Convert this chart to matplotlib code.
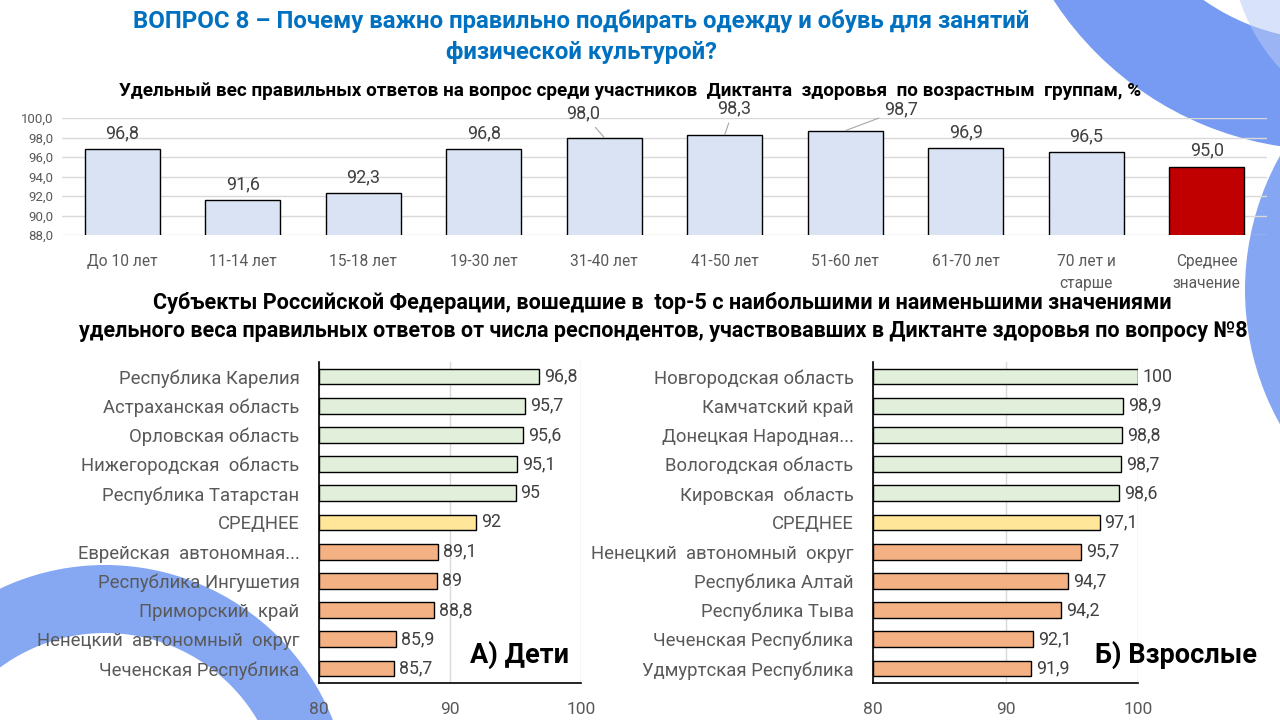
import matplotlib
matplotlib.use("Agg")
import matplotlib.pyplot as plt
from matplotlib.patches import Wedge

plt.rcParams['font.family'] = ['Roboto', 'DejaVu Sans']

# ---------------- data ----------------
age_groups = ["До 10 лет", "11-14 лет", "15-18 лет", "19-30 лет", "31-40 лет",
              "41-50 лет", "51-60 лет", "61-70 лет", "70 лет и\nстарше", "Среднее\nзначение"]
age_values = [96.8, 91.6, 92.3, 96.8, 98.0, 98.3, 98.7, 96.9, 96.5, 95.0]
age_yticks = [88, 90, 92, 94, 96, 98, 100]

kids_regions = ["Республика Карелия", "Астраханская область", "Орловская область",
                "Нижегородская  область", "Республика Татарстан", "СРЕДНЕЕ",
                "Еврейская  автономная...", "Республика Ингушетия", "Приморский  край",
                "Ненецкий  автономный  округ", "Чеченская Республика"]
kids_values = [96.8, 95.7, 95.6, 95.1, 95, 92, 89.1, 89, 88.8, 85.9, 85.7]

adult_regions = ["Новгородская область", "Камчатский край", "Донецкая Народная...",
                 "Вологодская область", "Кировская  область", "СРЕДНЕЕ",
                 "Ненецкий  автономный  округ", "Республика Алтай", "Республика Тыва",
                 "Чеченская Республика", "Удмуртская Республика"]
adult_values = [100, 98.9, 98.8, 98.7, 98.6, 97.1, 95.7, 94.7, 94.2, 92.1, 91.9]
region_xticks = [80, 90, 100]

# ---------------- styles ----------------
W, H = 1280, 720
GREEN, YELLOW, ORANGE = "#E2EFDA", "#FFE699", "#F4B183"
BLUE_BAR, RED_BAR = "#DAE3F3", "#C00000"
TXT = "#595959"
GRID = "#D9D9D9"

fig = plt.figure(figsize=(12.8, 7.2), dpi=100)
fig.patch.set_facecolor("white")


def px_axes(x0, y0, x1, y1, **kw):
    """axes from pixel box (top-left origin)."""
    return fig.add_axes([x0 / W, 1 - y1 / H, (x1 - x0) / W, (y1 - y0) / H], **kw)


# ---------------- decorative background ----------------
bg = px_axes(0, 0, W, H, zorder=0)
bg.set_xlim(0, W)
bg.set_ylim(H, 0)
bg.axis("off")
bg.add_patch(Wedge((1330, -180), 330, 0, 360, width=110, facecolor="#5F8AF0", alpha=0.85, lw=0))
bg.add_patch(Wedge((1420, -60), 190, 0, 360, width=70, facecolor="#B9CBF7", alpha=0.55, lw=0))
bg.add_patch(Wedge((1520, 290), 275, 0, 360, width=45, facecolor="#7097F2", alpha=0.85, lw=0))
bg.add_patch(Wedge((105, 810), 245, 0, 360, width=68, facecolor="#7199F2", alpha=0.85, lw=0))

# ---------------- titles ----------------
fig.text(581 / W, 1 - 21 / H, "ВОПРОС 8 – Почему важно правильно подбирать одежду и обувь для занятий",
         ha="center", va="center", fontsize=17.3, fontweight="bold", color="#0070C0")
fig.text(581 / W, 1 - 52 / H, "физической культурой?",
         ha="center", va="center", fontsize=17.3, fontweight="bold", color="#0070C0")
fig.text(630 / W, 1 - 91 / H,
         "Удельный вес правильных ответов на вопрос среди участников  Диктанта  здоровья  по возрастным  группам, %",
         ha="center", va="center", fontsize=13.6, fontweight="bold", color="black")
fig.text(662 / W, 1 - 303 / H,
         "Субъекты Российской Федерации, вошедшие в  top-5 с наибольшими и наименьшими значениями",
         ha="center", va="center", fontsize=15.6, fontweight="bold", color="black")
fig.text(663 / W, 1 - 331 / H,
         "удельного веса правильных ответов от числа респондентов, участвовавших в Диктанте здоровья по вопросу №8",
         ha="center", va="center", fontsize=15.5, fontweight="bold", color="black")

# ---------------- top chart ----------------
ax = px_axes(62, 118, 1267, 235, zorder=2)
ax.patch.set_alpha(0)
x = list(range(len(age_groups)))
colors = [BLUE_BAR] * (len(age_groups) - 1) + [RED_BAR]
ax.bar(x, age_values, width=0.62, color=colors, edgecolor="black", linewidth=1, zorder=3)
ax.set_ylim(88, 100)
ax.set_xlim(-0.5, len(age_groups) - 0.5)
ax.set_yticks(age_yticks)
ax.set_yticklabels([f"{v:.1f}".replace(".", ",") for v in age_yticks], fontsize=9.5, color=TXT)
ax.set_xticks(x)
ax.set_xticklabels(age_groups, fontsize=11.2, color=TXT, linespacing=1.55)
ax.tick_params(length=0, axis="y", pad=6)
ax.tick_params(length=0, axis="x", pad=14)
ax.grid(axis="y", color=GRID, lw=1, zorder=0)
for s in ax.spines.values():
    s.set_visible(False)

special = {4: (-21, 24), 5: (9, 26), 6: (56, 21)}
for i, v in enumerate(age_values):
    lab = f"{v:.1f}".replace(".", ",")
    if i in special:
        dx, dy = special[i]
        ax.annotate(lab, xy=(i, v), xytext=(dx, dy), textcoords="offset pixels",
                    ha="center", va="center", fontsize=13, color="#404040",
                    arrowprops=dict(arrowstyle="-", color="#A6A6A6", lw=0.8, shrinkA=2, shrinkB=0),
                    zorder=4)
    else:
        ax.annotate(lab, xy=(i, v), xytext=(0, 16), textcoords="offset pixels",
                    ha="center", va="center", fontsize=13, color="#404040", zorder=4)


# ---------------- bottom charts ----------------
def region_chart(x0, x1, names, values, tag, tag_xy):
    a = px_axes(x0, 362, x1, 683, zorder=2)
    a.patch.set_alpha(0)
    n = len(names)
    y = list(range(n))
    cols = [GREEN] * 5 + [YELLOW] + [ORANGE] * (n - 6)
    a.barh(y, [v - 80 for v in values], left=80, height=0.54, color=cols,
           edgecolor="black", linewidth=1, zorder=3)
    a.set_ylim(n - 0.5, -0.5)
    a.set_xlim(80, 100)
    a.set_yticks(y)
    a.set_yticklabels(names, fontsize=13.3, color=TXT)
    a.set_xticks(region_xticks)
    a.set_xticklabels([str(t) for t in region_xticks], fontsize=12.5, color=TXT)
    a.tick_params(length=0, axis="y", pad=14)
    a.tick_params(length=0, axis="x", pad=14)
    a.grid(axis="x", color=GRID, lw=1, zorder=0)
    for k in ("top", "right"):
        a.spines[k].set_visible(False)
    for k in ("left", "bottom"):
        a.spines[k].set_color("black")
        a.spines[k].set_linewidth(1.2)
    for i, v in enumerate(values):
        a.annotate(f"{v:g}".replace(".", ","), xy=(v, i), xytext=(5, 0), textcoords="offset pixels",
                   ha="left", va="center", fontsize=12.8, color="#404040", zorder=4)
    fig.text(tag_xy[0] / W, 1 - tag_xy[1] / H, tag, ha="center", va="center",
             fontsize=19.5, fontweight="bold", color="black", zorder=5)
    return a


region_chart(319, 581, kids_regions, kids_values, "А) Дети", (520, 655))
region_chart(873, 1138, adult_regions, adult_values, "Б) Взрослые", (1176, 655))

fig.savefig("out.png", dpi=100, facecolor="white")
